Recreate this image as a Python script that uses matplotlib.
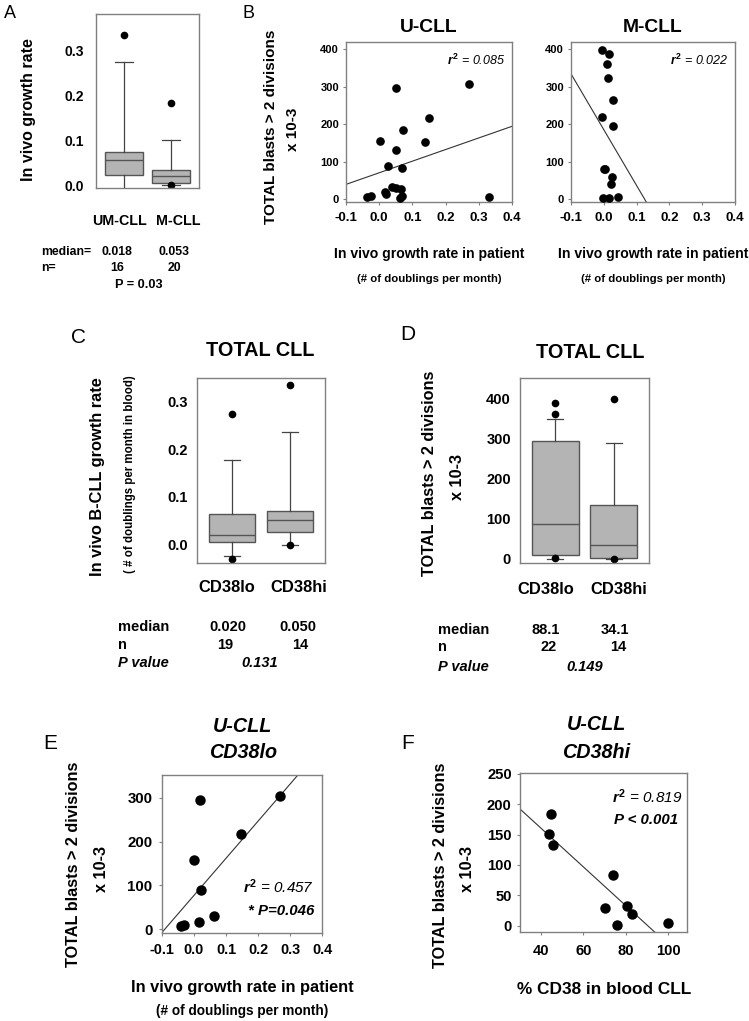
import matplotlib
matplotlib.use("Agg")
import matplotlib.pyplot as plt
from matplotlib.ticker import FormatStrFormatter

plt.rcParams['font.family'] = ['Liberation Sans', 'DejaVu Sans']
plt.rcParams['font.weight'] = 'bold'
plt.rcParams['axes.unicode_minus'] = False
plt.rcParams['mathtext.fontset'] = 'custom'
plt.rcParams['mathtext.rm'] = 'Liberation Sans'
plt.rcParams['mathtext.it'] = 'Liberation Sans:italic'

# ---- data ----
# A: growth rate by IGHV status
a_groups = ['UM-CLL', 'M-CLL']
a_whislo = [-0.03, 0.0]
a_q1 = [0.022, 0.005]
a_med = [0.056, 0.020]
a_q3 = [0.073, 0.033]
a_whishi = [0.274, 0.100]
a_fliers = [[0.335], [0.182, 0.0]]
a_median_txt = ['0.018', '0.053']
a_n = [16, 20]

# B: blasts vs growth rate
b_ucll_x = [-0.037, -0.026, 0.017, 0.019, 0.025, 0.003, 0.050, 0.050, 0.039, 0.052,
            0.065, 0.062, 0.069, 0.068, 0.071, 0.138, 0.151, 0.270, 0.331]
b_ucll_y = [7, 8, 21, 15, 88, 157, 296, 132, 33, 31, 29, 4, 9, 84, 185, 154, 218, 307, 6]
b_ucll_fit = (71, 310)  # intercept, slope
b_mcll_x = [-0.006, 0.016, 0.011, 0.014, 0.027, -0.006, 0.028, 0.001, 0.005, 0.024,
            0.023, -0.002, 0.015, 0.044]
b_mcll_y = [399, 388, 362, 324, 266, 220, 196, 82, 80, 60, 40, 3, 3, 6]
b_mcll_fit = (186, -1490)

# C: growth rate by CD38
cd_groups = ['CD38lo', 'CD38hi']
c_whislo = [-0.026, -0.002]
c_q1 = [0.005, 0.025]
c_med = [0.019, 0.050]
c_q3 = [0.063, 0.070]
c_whishi = [0.178, 0.236]
c_fliers = [[0.275, -0.032], [0.335, -0.002]]
c_median_txt = ['0.020', '0.050']
c_n = [19, 14]
c_p = '0.131'

# D: blasts by CD38
d_whislo = [1, 0]
d_q1 = [11, 3]
d_med = [87, 34]
d_q3 = [294, 134]
d_whishi = [349, 289]
d_fliers = [[387, 360, 2], [398, 0]]
d_median_txt = ['88.1', '34.1']
d_n = [22, 14]
d_p = '0.149'

# E: U-CLL CD38lo
e_x = [-0.042, -0.031, 0.020, 0.000, 0.021, 0.015, 0.062, 0.148, 0.270]
e_y = [8, 10, 294, 157, 90, 15, 30, 217, 305]
e_fit = (77, 847)

# F: U-CLL CD38hi
f_x = [44.8, 43.7, 45.4, 73.8, 70.2, 80.8, 82.9, 75.7, 99.8]
f_y = [184, 151, 132, 83, 29, 33, 19, 2, 4]
f_fit = (287, -3.17)

W, H = 749, 1021
fig = plt.figure(figsize=(W / 100, H / 100), dpi=100)
GREY = '#808080'


def px_axes(l, t, r, b):
    ax = fig.add_axes([l / W, 1 - b / H, (r - l) / W, (b - t) / H])
    for s in ax.spines.values():
        s.set_color(GREY)
        s.set_linewidth(1)
    return ax


def ftext(x, y, s, **kw):
    kw.setdefault('ha', 'center')
    kw.setdefault('va', 'center')
    fig.text(x / W, 1 - y / H, s, **kw)


def boxes(ax, whislo, q1, med, q3, whishi, fliers, capw):
    stats = []
    for i in range(len(med)):
        stats.append(dict(whislo=whislo[i], q1=q1[i], med=med[i], q3=q3[i],
                          whishi=whishi[i], fliers=fliers[i]))
    ax.bxp(stats, positions=[1, 2], widths=0.8, patch_artist=True,
           capwidths=capw,
           boxprops=dict(facecolor='#b4b4b4', edgecolor='#555555', linewidth=1),
           medianprops=dict(color='#555555', linewidth=1),
           whiskerprops=dict(color='#444444', linewidth=0.9),
           capprops=dict(color='#444444', linewidth=0.9),
           flierprops=dict(marker='o', markerfacecolor='black',
                           markeredgecolor='black', markersize=4.5))
    ax.set_xlim(0.4, 2.6)


def scatter(ax, x, y, fit, ms=6):
    ax.plot(x, y, 'o', color='black', markersize=ms, clip_on=False, zorder=3)
    ax.axline((0, fit[0]), slope=fit[1], color='#333333', linewidth=0.8)


# ---- A ----
ax = px_axes(96, 14, 199, 188)
boxes(ax, a_whislo, a_q1, a_med, a_q3, a_whishi, a_fliers, 0.4)
ax.set_ylim(-0.006, 0.381)
ax.set_yticks([0.0, 0.1, 0.2, 0.3])
ax.yaxis.set_major_formatter(FormatStrFormatter('%.1f'))
# labels sit a little outside the box centres
ax.set_xticks([0.9, 2.15], a_groups)
ax.tick_params(axis='y', length=0, pad=9, labelsize=10)
ax.tick_params(axis='x', length=0, pad=19, labelsize=10.3)
ftext(10, 13, 'A', fontsize=13, fontweight='normal')
ftext(29, 110, 'In vivo growth rate', rotation=90, fontsize=11.5)
ftext(41, 252, 'median=', ha='left', fontsize=8.8)
ftext(41, 268, 'n=', ha='left', fontsize=8.8)
for i, xp in enumerate([117, 174]):
    ftext(xp, 252, a_median_txt[i], fontsize=8.8)
    ftext(xp, 268, str(a_n[i]), fontsize=8.8)
ftext(139, 285, 'P = 0.03', fontsize=9.2)

# ---- B ----
ftext(249, 13, 'B', fontsize=13, fontweight='normal')
ftext(271, 127, 'TOTAL blasts > 2 divisions', rotation=90, fontsize=11)
ftext(293, 129, 'x 10-3', rotation=90, fontsize=11)
for (l, r), title, bx, by, fit, r2 in [((346, 512), 'U-CLL', b_ucll_x, b_ucll_y, b_ucll_fit, '0.085'),
                                       ((571, 735), 'M-CLL', b_mcll_x, b_mcll_y, b_mcll_fit, '0.022')]:
    ax = px_axes(l, 42, r, 202)
    scatter(ax, bx, by, fit, ms=5.2)
    ax.set_xlim(-0.1, 0.4)
    ax.set_ylim(-7, 420)
    ax.set_xticks([-0.1, 0.0, 0.1, 0.2, 0.3, 0.4])
    ax.xaxis.set_major_formatter(FormatStrFormatter('%.1f'))
    ax.set_yticks([0, 100, 200, 300, 400])
    ax.tick_params(axis='y', length=2, color=GREY, pad=3, labelsize=8)
    ax.tick_params(axis='x', length=2, color=GREY, pad=5, labelsize=9.5)
    cx = (l + r) / 2
    ftext(cx, 28, title, fontsize=13.9)
    ftext(cx, 254, 'In vivo growth rate in patient', fontsize=10.1)
    ftext(cx, 279, '(# of doublings per month)', fontsize=8.2)
    ftext(r - 7, 60, r'$r^2$ = ' + r2, ha='right', fontsize=9, fontstyle='italic',
          fontweight='normal')

# ---- C ----
ax = px_axes(197, 378, 325, 563)
boxes(ax, c_whislo, c_q1, c_med, c_q3, c_whishi, c_fliers, 0.28)
ax.set_ylim(-0.040, 0.350)
ax.set_yticks([0.0, 0.1, 0.2, 0.3])
ax.yaxis.set_major_formatter(FormatStrFormatter('%.1f'))
ax.set_xticks([0.91, 2.15], cd_groups)
ax.tick_params(axis='y', length=0, pad=6.5, labelsize=10.5)
ax.tick_params(axis='x', length=0, pad=12, labelsize=11.9)
ftext(78, 337, 'C', fontsize=15, fontweight='normal')
ftext(260, 350, 'TOTAL CLL', fontsize=14.3)
ftext(98, 477, 'In vivo B-CLL growth rate', rotation=90, fontsize=11.8)
ftext(130, 474, '( # of doublings per month in blood)', rotation=90, fontsize=8.3)
ftext(118, 627, 'median', ha='left', fontsize=10.5)
ftext(118, 645, 'n', ha='left', fontsize=10.5)
ftext(118, 663, 'P value', ha='left', fontsize=10.5, fontstyle='italic')
for i, xp in enumerate([228, 298]):
    ftext(xp, 627, c_median_txt[i], fontsize=10.5)
    ftext(xp - 3 if i == 0 else xp + 2, 645, str(c_n[i]), fontsize=10.5)
ftext(260, 663, c_p, fontsize=10.5, fontstyle='italic')

# ---- D ----
ax = px_axes(520, 378, 649, 563)
boxes(ax, d_whislo, d_q1, d_med, d_q3, d_whishi, d_fliers, 0.28)
ax.set_ylim(-10, 450)
ax.set_yticks([0, 100, 200, 300, 400])
ax.set_xticks([0.84, 2.08], cd_groups)
ax.tick_params(axis='y', length=0, pad=6.5, labelsize=10.5)
ax.tick_params(axis='x', length=0, pad=14, labelsize=11.9)
ftext(408, 335, 'D', fontsize=15, fontweight='normal')
ftext(590, 352, 'TOTAL CLL', fontsize=14.3)
ftext(430, 473, 'TOTAL blasts > 2 divisions', rotation=90, fontsize=11.7)
ftext(457, 477, 'x 10-3', rotation=90, fontsize=11.7)
ftext(438, 630, 'median', ha='left', fontsize=10.5)
ftext(438, 647, 'n', ha='left', fontsize=10.5)
ftext(438, 667, 'P value', ha='left', fontsize=10.5, fontstyle='italic')
for i, xp in enumerate([546, 615]):
    ftext(xp, 630, d_median_txt[i], fontsize=10.5)
    ftext(xp + 3, 647, str(d_n[i]), fontsize=10.5)
ftext(585, 667, d_p, fontsize=10.5, fontstyle='italic')

# ---- E ----
ax = px_axes(162, 775, 322, 933)
scatter(ax, e_x, e_y, e_fit, ms=6.5)
ax.set_xlim(-0.1, 0.4)
ax.set_ylim(-9, 352)
ax.set_xticks([-0.1, 0.0, 0.1, 0.2, 0.3, 0.4])
ax.xaxis.set_major_formatter(FormatStrFormatter('%.1f'))
ax.set_yticks([0, 100, 200, 300])
ax.tick_params(axis='y', length=2, color=GREY, pad=5, labelsize=10.8)
ax.tick_params(axis='x', length=2.5, color=GREY, pad=5, labelsize=10.4)
ftext(50, 743, 'E', fontsize=15, fontweight='normal')
ftext(243, 727, 'U-CLL', fontsize=14.2, fontstyle='italic')
ftext(243, 752, 'CD38lo', fontsize=14.2, fontstyle='italic')
ftext(73, 864, 'TOTAL blasts > 2 divisions', rotation=90, fontsize=11.7)
ftext(102, 869, 'x 10-3', rotation=90, fontsize=11.7)
ftext(242, 987, 'In vivo growth rate in patient', fontsize=11.8)
ftext(242, 1011, '(# of doublings per month)', fontsize=9.8)
ftext(314, 887, r'$r^2$ = 0.457', ha='right', fontsize=11, fontstyle='italic',
      fontweight='normal')
ftext(314, 911, '* P=0.046', ha='right', fontsize=10.8, fontstyle='italic')

# ---- F ----
ax = px_axes(520, 773, 687, 932)
scatter(ax, f_x, f_y, f_fit, ms=6.5)
ax.set_xlim(30, 109)
ax.set_ylim(-10, 251)
ax.set_xticks([40, 60, 80, 100])
ax.set_yticks([0, 50, 100, 150, 200, 250])
ax.tick_params(axis='y', length=2, color=GREY, pad=4, labelsize=10.6)
ax.tick_params(axis='x', length=2.5, color=GREY, pad=6, labelsize=10.6)
ftext(408, 743, 'F', fontsize=15, fontweight='normal')
ftext(597, 725, 'U-CLL', fontsize=14.2, fontstyle='italic')
ftext(596, 752, 'CD38hi', fontsize=14.2, fontstyle='italic')
ftext(440, 865, 'TOTAL blasts > 2 divisions', rotation=90, fontsize=11.7)
ftext(467, 869, 'x 10-3', rotation=90, fontsize=11.7)
ftext(604, 989, '% CD38 in blood CLL', fontsize=12.4)
ftext(682, 797, r'$r^2$ = 0.819', ha='right', fontsize=11, fontstyle='italic',
      fontweight='normal')
ftext(678, 820, 'P < 0.001', ha='right', fontsize=10.8, fontstyle='italic')

fig.savefig('out.png', dpi=100)
